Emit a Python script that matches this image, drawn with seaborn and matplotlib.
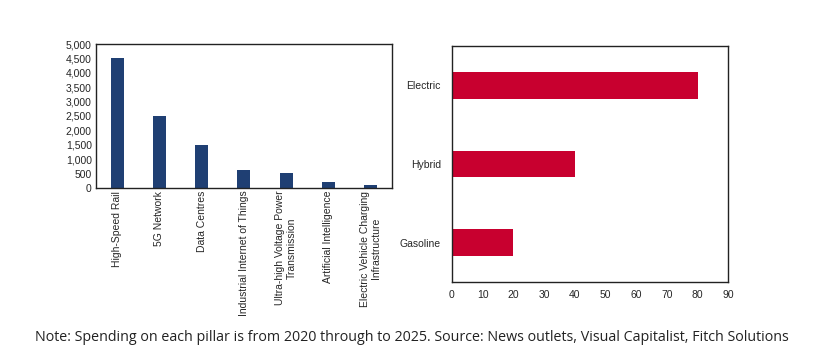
import matplotlib
matplotlib.use('Agg')
import matplotlib.pyplot as plt
import seaborn as sns

# Left panel: spending by pillar
pillars = ['High-Speed Rail', '5G Network', 'Data Centres',
           'Industrial Internet of Things',
           'Ultra-high Voltage Power\nTransmission',
           'Artificial Intelligence',
           'Electric Vehicle Charging\nInfrastructure']
spending = [4500, 2500, 1500, 630, 520, 220, 100]
spend_ticks = [0, 500, 1000, 1500, 2000, 2500, 3000, 3500, 4000, 4500, 5000]

# Right panel: vehicle types
vehicles = ['Electric', 'Hybrid', 'Gasoline']
vehicle_vals = [80, 40, 20]
vehicle_ticks = [0, 10, 20, 30, 40, 50, 60, 70, 80, 90]

note = ("Note: Spending on each pillar is from 2020 through to 2025. "
        "Source: News outlets, Visual Capitalist, Fitch Solutions")

sns.set_style('white')
plt.rcParams['font.family'] = ['Liberation Sans', 'DejaVu Sans']

fig = plt.figure(figsize=(8.37, 3.58), dpi=100)
ax1 = fig.add_axes([0.1147, 0.475, 0.3533, 0.402])
ax2 = fig.add_axes([0.540, 0.212, 0.330, 0.660])

sns.barplot(x=pillars, y=spending, color='#1F3F73', width=0.31,
            saturation=1, linewidth=0, ax=ax1)
ax1.set_xlim(-0.5, 6.5)
ax1.set_ylim(0, 5000)
ax1.set_yticks(spend_ticks)
ax1.set_yticklabels([f'{v:,}' for v in spend_ticks], fontsize=7.5)
ax1.set_xticks(range(len(pillars)))
ax1.set_xticklabels(pillars, rotation=90, fontsize=7.5, ha='center',
                    multialignment='center')
ax1.tick_params(axis='y', length=0, pad=3)
ax1.tick_params(axis='x', length=0, pad=2)

sns.barplot(x=vehicle_vals, y=vehicles, color='#C8002F', width=0.34,
            saturation=1, linewidth=0, orient='h', ax=ax2)
ax2.set_xlim(0, 90)
ax2.set_ylim(2.5, -0.5)
ax2.set_xticks(vehicle_ticks)
ax2.set_xticklabels([str(v) for v in vehicle_ticks], fontsize=7.5)
ax2.tick_params(axis='y', labelsize=7.5, length=0, pad=8)
ax2.tick_params(axis='x', length=0, pad=6)

for ax in (ax1, ax2):
    ax.set_xlabel('')
    ax.set_ylabel('')
    for s in ax.spines.values():
        s.set_visible(True)
        s.set_color('#222222')
        s.set_linewidth(1.0)

fig.text(0.042, 0.058, note, fontsize=10.3, family=['Open Sans', 'DejaVu Sans'],
         color='#222222', ha='left', va='center')

fig.savefig('out.png', dpi=100)
